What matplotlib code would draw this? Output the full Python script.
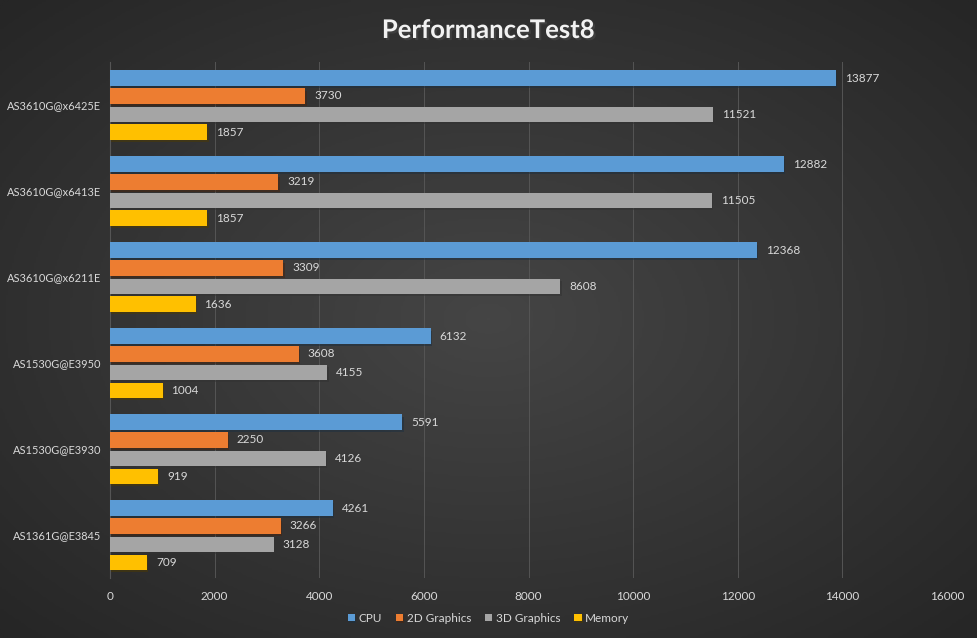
import numpy as np
import matplotlib
matplotlib.use("Agg")
import matplotlib.pyplot as plt
import matplotlib.patheffects as pe

plt.rcParams['font.family'] = ['Lato', 'DejaVu Sans']

systems = ["AS1361G@E3845", "AS1530G@E3930", "AS1530G@E3950",
           "AS3610G@x6211E", "AS3610G@x6413E", "AS3610G@x6425E"]
series = ["CPU", "2D Graphics", "3D Graphics", "Memory"]
cpu = [4261, 5591, 6132, 12368, 12882, 13877]
graphics_2d = [3266, 2250, 3608, 3309, 3219, 3730]
graphics_3d = [3128, 4126, 4155, 8608, 11505, 11521]
memory = [709, 919, 1004, 1636, 1857, 1857]
colors = ["#5B9BD5", "#ED7D31", "#A5A5A5", "#FFC000"]
xticks = [0, 2000, 4000, 6000, 8000, 10000, 12000, 14000, 16000]

fig = plt.figure(figsize=(9.77, 6.38), dpi=100)

# radial dark background
bg = fig.add_axes([0, 0, 1, 1], zorder=-10)
yy, xx = np.mgrid[-1:1:300j, -1:1:460j]
r = np.sqrt(xx ** 2 + yy ** 2)
bg.imshow(r, cmap=matplotlib.colors.LinearSegmentedColormap.from_list(
    "bg", ["#454545", "#262626"]), vmin=0, vmax=1.4, aspect="auto",
    extent=[0, 1, 0, 1])
bg.axis("off")

ax = fig.add_axes([0.1126, 0.094, 0.8567, 0.8088])
ax.set_facecolor("none")

values = [cpu, graphics_2d, graphics_3d, memory]
offsets = [0.314, 0.105, -0.105, -0.314]
y = np.arange(len(systems))
for vals, off, col, name in zip(values, offsets, colors, series):
    bars = ax.barh(y + off, vals, height=0.175, color=col, label=name, zorder=3,
                   path_effects=[pe.SimplePatchShadow(offset=(1, -1.5), alpha=0.5),
                                 pe.Normal()])
    for b, v in zip(bars, vals):
        ax.text(v + 170, b.get_y() + b.get_height() / 2, str(v),
                va="center", ha="left", fontsize=8.5, color="#D9D9D9")

ax.set_xlim(0, 16000)
ax.set_ylim(-0.5, len(systems) - 0.5)
ax.set_xticks(xticks)
ax.set_yticks(y)
ax.set_yticklabels(systems)
ax.tick_params(axis="both", length=0, colors="#D9D9D9", labelsize=8.5)
ax.tick_params(axis="x", pad=9)
ax.tick_params(axis="y", pad=6.5, labelsize=7.9)
ax.grid(axis="x", color="#555555", linewidth=0.7, zorder=0)
for s in ["top", "right", "bottom"]:
    ax.spines[s].set_visible(False)
ax.spines["left"].set_color("#555555")

fig.text(0.5, 0.953, "PerformanceTest8", ha="center", va="center",
         fontsize=18.5, fontweight="bold", color="#F2F2F2",
         path_effects=[pe.withSimplePatchShadow(offset=(1.5, -1.5), alpha=0.6)])

leg = fig.legend(loc="center", bbox_to_anchor=(0.5, 0.031), ncol=4, frameon=False,
                 fontsize=8.5, handlelength=0.6, handleheight=0.6,
                 handletextpad=0.3, columnspacing=1.2, labelcolor="#D9D9D9")

fig.savefig("out.png", dpi=100, facecolor="#2e2e2e")
